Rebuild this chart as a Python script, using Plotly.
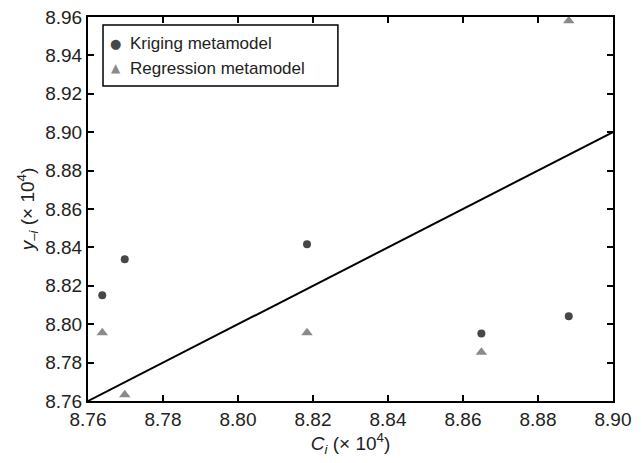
import plotly.graph_objects as go

kriging_x = [8.7638, 8.7698, 8.8184, 8.8649, 8.8882]
kriging_y = [8.8151, 8.8338, 8.8416, 8.7951, 8.8041]
regression_x = [8.7638, 8.7698, 8.8184, 8.8649, 8.8882]
regression_y = [8.7955, 8.7633, 8.7955, 8.7854, 8.9580]
line_x = [8.76, 8.90]
line_y = [8.76, 8.90]
x_ticks = [8.76, 8.78, 8.80, 8.82, 8.84, 8.86, 8.88, 8.90]
y_ticks = [8.76, 8.78, 8.80, 8.82, 8.84, 8.86, 8.88, 8.90, 8.92, 8.94, 8.96]
legend_names = ["Kriging metamodel", "Regression metamodel"]

K_COLOR = "#474747"
R_COLOR = "#8a8a8a"

fig = go.Figure()
fig.add_trace(go.Scatter(x=line_x, y=line_y, mode="lines",
                         line=dict(color="black", width=2), showlegend=False))
fig.add_trace(go.Scatter(x=kriging_x, y=kriging_y, mode="markers", name=legend_names[0],
                         showlegend=False,
                         marker=dict(symbol="circle", size=8, color=K_COLOR)))
fig.add_trace(go.Scatter(x=regression_x, y=regression_y, mode="markers", name=legend_names[1],
                         showlegend=False,
                         marker=dict(symbol="triangle-up", size=10, color=R_COLOR)))

font = "Liberation Sans, Arial, Helvetica, sans-serif"
axis_common = dict(showline=True, linecolor="black", linewidth=2, mirror="ticks",
                   ticks="inside", ticklen=6, tickwidth=1.5, tickcolor="black",
                   showgrid=False, zeroline=False, tickformat=".2f",
                   ticklabeloverflow="allow",
                   tickfont=dict(size=19, color="#222", family=font))

# custom legend box (paper coordinates)
fig.add_shape(type="rect", xref="paper", yref="paper", x0=0.0286, x1=0.476, y0=0.820, y1=0.979,
              line=dict(color="black", width=1.5), fillcolor="white", layer="above")
rows = [(0.930, "●", K_COLOR, 13), (0.867, "▲", R_COLOR, 12)]
for (yy, sym, col, sz), name in zip(rows, legend_names):
    fig.add_annotation(xref="paper", yref="paper", x=0.0533, y=yy, text=sym, showarrow=False,
                       font=dict(size=sz, color=col, family="DejaVu Sans"), xanchor="center", yanchor="middle")
    fig.add_annotation(xref="paper", yref="paper", x=0.0762, y=yy, text=name, showarrow=False,
                       font=dict(size=17, color="#222", family=font), xanchor="left", yanchor="middle")

fig.update_layout(
    width=642, height=463,
    margin=dict(l=80, r=37, t=9, b=70),
    plot_bgcolor="white", paper_bgcolor="white",
    font=dict(family=font, color="#222"),
    xaxis=dict(range=[8.76, 8.90], tickvals=x_ticks, automargin=False,
               title=dict(text="<i>C<sub>i</sub></i> (× 10<sup>4</sup>)", font=dict(size=19), standoff=6),
               **axis_common),
    yaxis=dict(range=[8.76, 8.96], tickvals=y_ticks, automargin=False,
               title=dict(text="<i>y</i><sub>–<i>i</i></sub> (× 10<sup>4</sup>)", font=dict(size=19), standoff=6),
               **axis_common),
    showlegend=False,
)
fig.write_html("out.html")
